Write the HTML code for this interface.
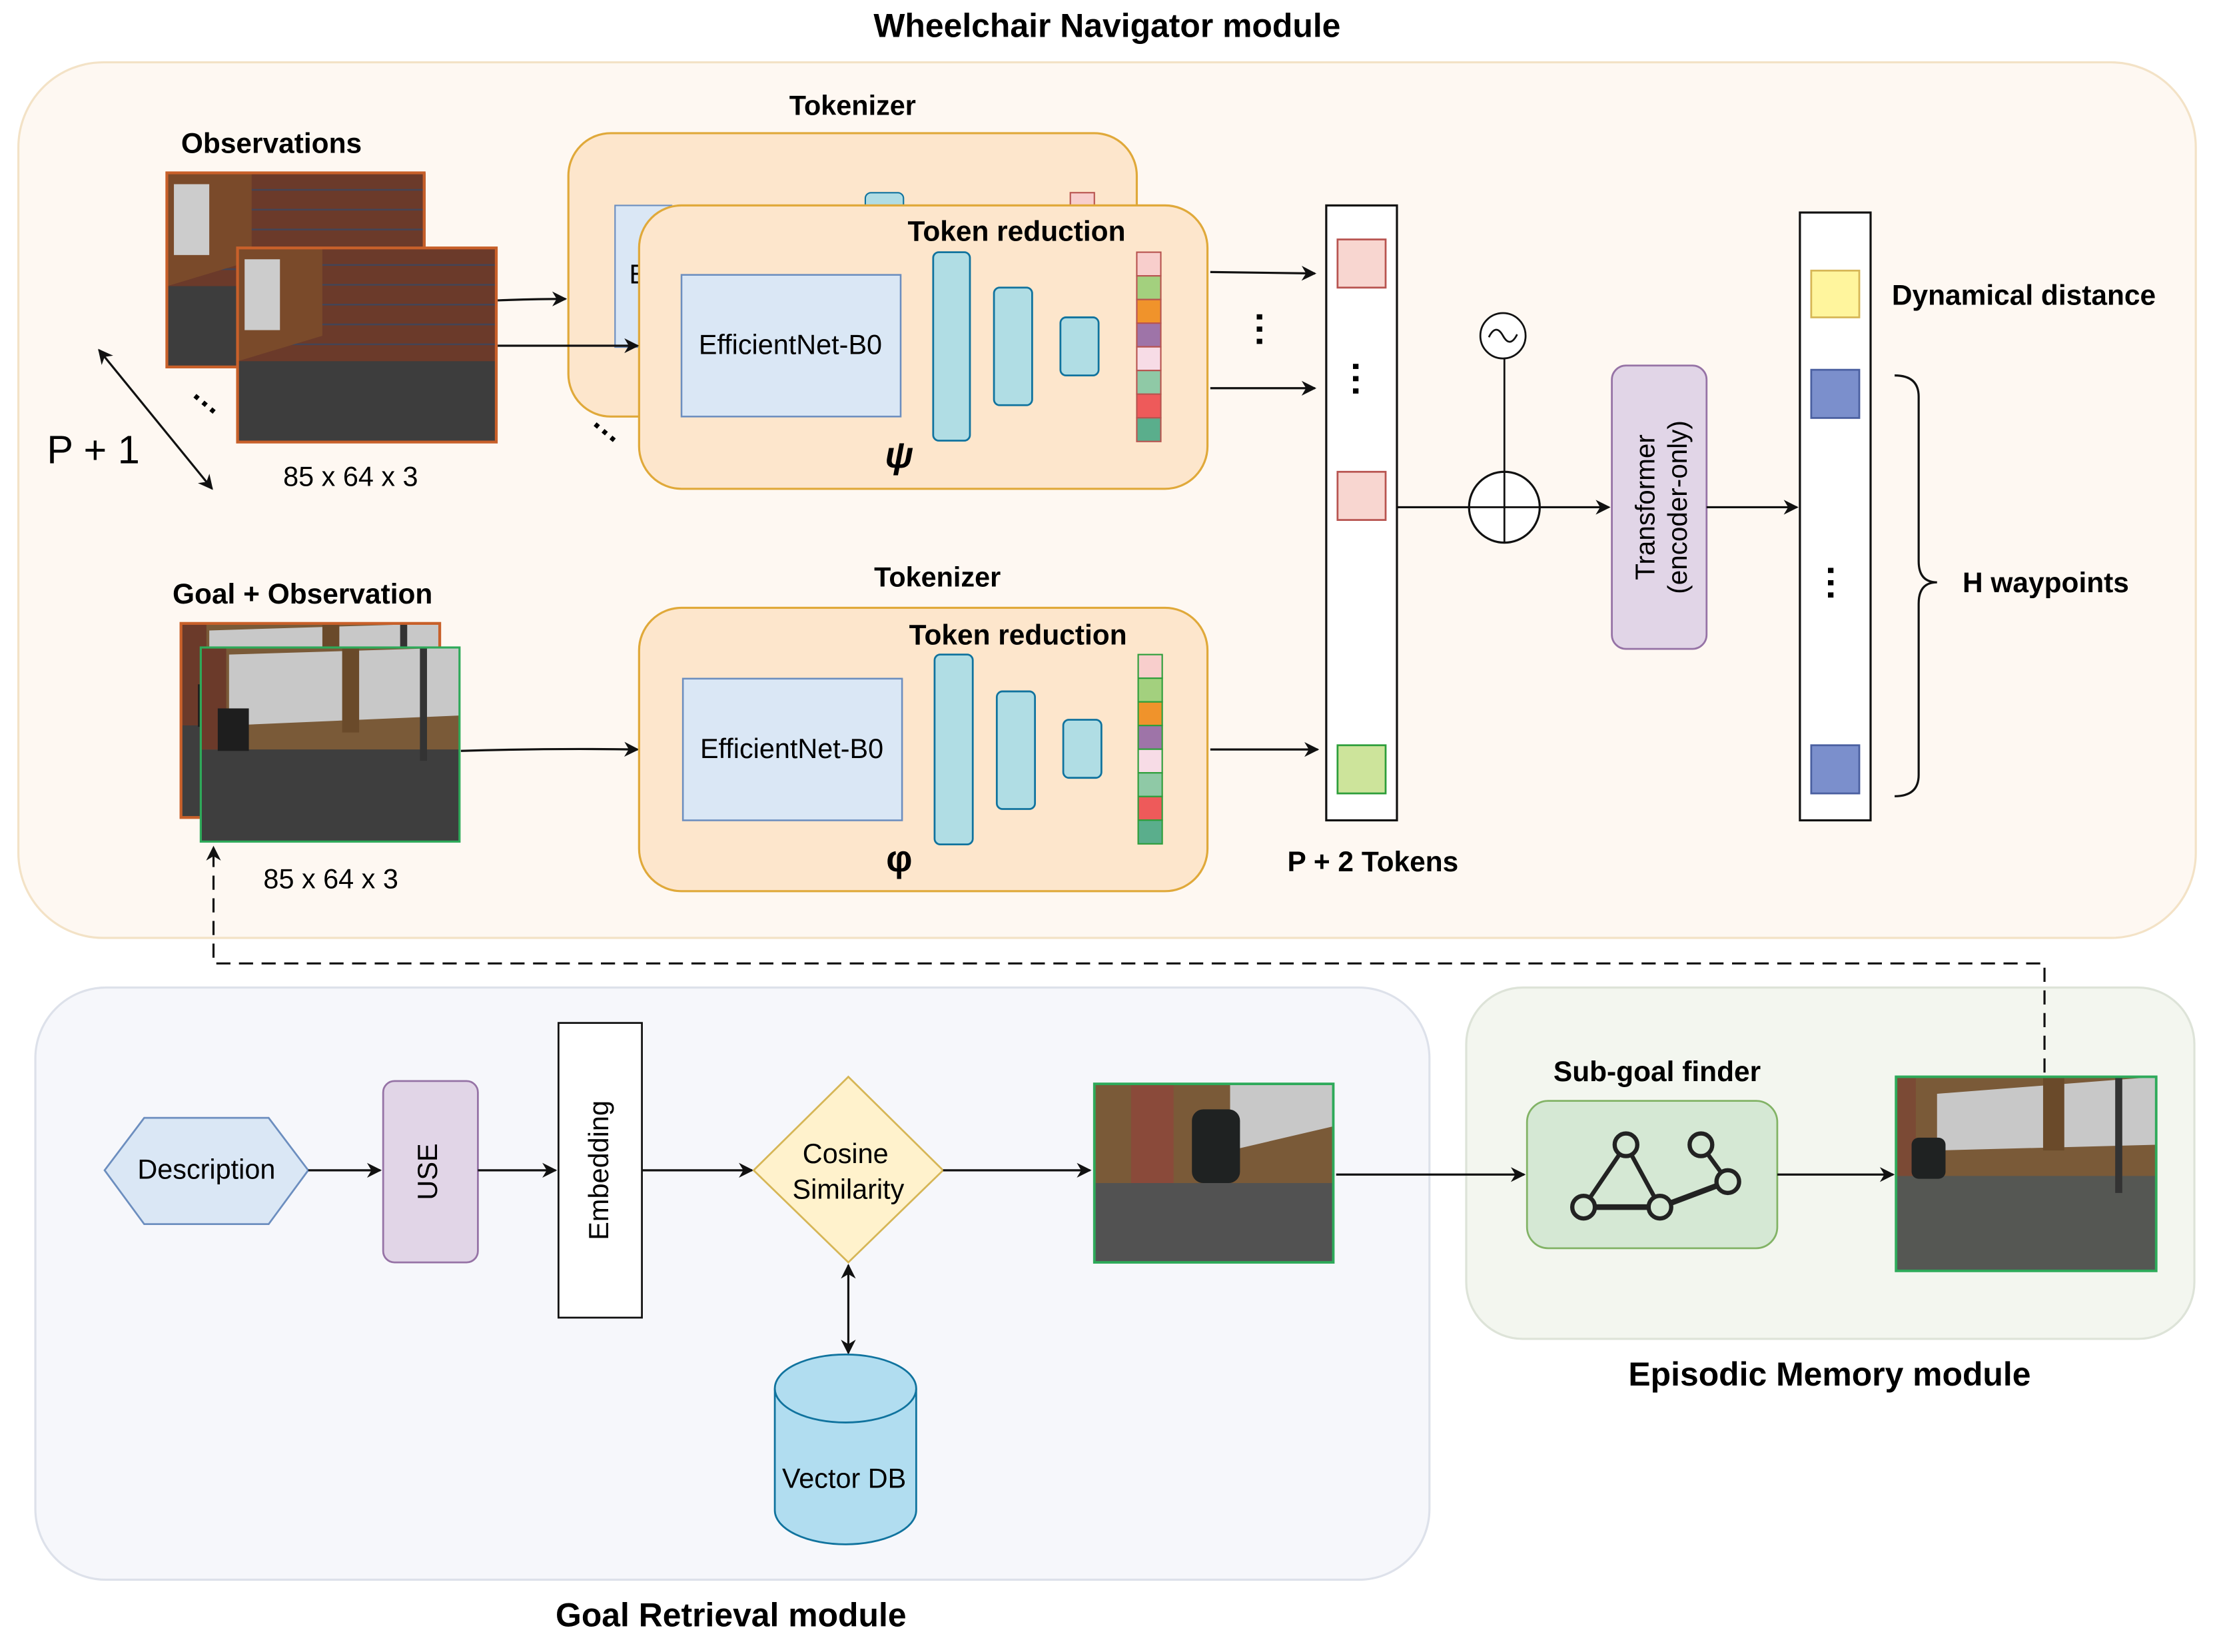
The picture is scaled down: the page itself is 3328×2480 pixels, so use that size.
<!DOCTYPE html>
<html><head><meta charset="utf-8"><style>html,body{margin:0;padding:0;background:#fff}svg{display:block}text{font-family:"Liberation Sans",sans-serif}</style></head>
<body>
<svg width="3328" height="2480" viewBox="0 0 1568 1166" preserveAspectRatio="none" xmlns="http://www.w3.org/2000/svg">
<defs>
<marker id="a" viewBox="0 0 10 10" refX="9" refY="5" markerWidth="7" markerHeight="7" orient="auto-start-reverse"><path d="M0,0 L10,5 L0,10 L3,5 z" fill="#111"/></marker>
<g id="obs">
<rect width="183" height="137" fill="#3c3c3c"/>
<rect width="183" height="80" fill="#6b3a2a"/>
<g stroke="#445" stroke-width="1.2">
<line x1="0" y1="12" x2="183" y2="12"/><line x1="0" y1="26" x2="183" y2="26"/><line x1="0" y1="40" x2="183" y2="40"/><line x1="0" y1="54" x2="183" y2="54"/><line x1="0" y1="68" x2="183" y2="68"/>
</g>
<polygon points="0,0 60,0 60,62 0,80" fill="#7a4a2a"/>
<rect x="5" y="8" width="25" height="50" fill="#ccc"/>
<rect x="0" y="80" width="183" height="57" fill="#3d3d3d"/>
</g>
<g id="goal">
<rect width="183" height="137" fill="#3e3e3e"/>
<rect width="183" height="72" fill="#7a5a38"/>
<polygon points="20,5 183,0 183,48 20,55" fill="#c8c8c8"/>
<rect x="100" y="0" width="12" height="60" fill="#6a4a2a"/>
<rect x="155" y="0" width="5" height="80" fill="#333"/>
<rect x="0" y="0" width="18" height="72" fill="#6b3a2a"/>
<rect x="12" y="43" width="22" height="30" fill="#1e1e1e"/>
</g>
</defs>

<rect x="13" y="44" width="1540" height="618" rx="60" fill="#fef8f2" stroke="#f3e2c6" stroke-width="1.5"/>
<rect x="25" y="697" width="986" height="418" rx="50" fill="#f6f7fb" stroke="#dde1ea" stroke-width="1.5"/>
<rect x="1037" y="697" width="515" height="248" rx="40" fill="#f3f6ef" stroke="#dde3d8" stroke-width="1.5"/>

<text x="783" y="26" font-size="23.5" font-weight="bold" text-anchor="middle">Wheelchair Navigator module</text>
<text x="517" y="1148" font-size="23.5" font-weight="bold" text-anchor="middle">Goal Retrieval module</text>
<text x="1294" y="978" font-size="23.5" font-weight="bold" text-anchor="middle">Episodic Memory module</text>

<text x="192" y="108" font-size="20" font-weight="bold" text-anchor="middle">Observations</text>
<use href="#obs" x="118" y="122"/>
<rect x="118" y="122" width="182" height="137" fill="none" stroke="#c8602a" stroke-width="2"/>
<use href="#obs" x="168" y="175"/>
<rect x="168" y="175" width="183" height="137" fill="none" stroke="#c8602a" stroke-width="2"/>
<text x="143" y="292" font-size="22" font-weight="bold" text-anchor="middle" transform="rotate(40 143 288)">···</text>
<text x="426" y="312" font-size="22" font-weight="bold" text-anchor="middle" transform="rotate(40 426 308)">···</text>
<text x="248" y="343" font-size="19.5" text-anchor="middle">85 x 64 x 3</text>
<text x="66" y="327" font-size="28" text-anchor="middle">P + 1</text>
<line x1="70" y1="247" x2="150" y2="345" stroke="#111" stroke-width="1.5" marker-start="url(#a)" marker-end="url(#a)"/>

<text x="603" y="81" font-size="19.5" font-weight="bold" text-anchor="middle">Tokenizer</text>
<rect x="402" y="94" width="402" height="200" rx="30" fill="#fde6cc" stroke="#e0a93a" stroke-width="1.5"/>
<rect x="435" y="145" width="40" height="100" fill="#dae7f5" stroke="#6c8ebf"/>
<text x="445" y="200" font-size="19">E</text>
<rect x="612" y="136" width="27" height="20" rx="4" fill="#b0dde4" stroke="#10739e"/>
<rect x="757" y="136" width="17" height="12" fill="#f8cecc" stroke="#b85450"/>
<rect x="452" y="145" width="402" height="200" rx="30" fill="#fde6cc" stroke="#e0a93a" stroke-width="1.5"/>
<text x="719" y="170" font-size="20" font-weight="bold" text-anchor="middle">Token reduction</text>
<rect x="482" y="194" width="155" height="100" fill="#dae7f5" stroke="#6c8ebf" stroke-width="1.2"/>
<text x="559" y="250" font-size="19.5" text-anchor="middle">EfficientNet-B0</text>
<rect x="660" y="178" width="26" height="133" rx="4" fill="#b0dde4" stroke="#10739e" stroke-width="1.3"/>
<rect x="703" y="203" width="27" height="83" rx="4" fill="#b0dde4" stroke="#10739e" stroke-width="1.3"/>
<rect x="750" y="224" width="27" height="41" rx="4" fill="#b0dde4" stroke="#10739e" stroke-width="1.3"/>
<text x="636" y="330" font-size="26" font-style="italic" font-family="Liberation Serif" text-anchor="middle" font-weight="bold">ψ</text>
<g stroke="#b85450" stroke-width="1">
<rect x="804" y="178" width="17" height="16.7" fill="#f8cecc"/>
<rect x="804" y="194.7" width="17" height="16.7" fill="#a3d07e"/>
<rect x="804" y="211.4" width="17" height="16.7" fill="#f0932b"/>
<rect x="804" y="228.1" width="17" height="16.7" fill="#9e74a8"/>
<rect x="804" y="244.8" width="17" height="16.7" fill="#f7dce6"/>
<rect x="804" y="261.5" width="17" height="16.7" fill="#8fc9a6"/>
<rect x="804" y="278.2" width="17" height="16.7" fill="#ee5a5a"/>
<rect x="804" y="294.9" width="17" height="16.7" fill="#5aae8c"/>
</g>
<path d="M352,212 Q380,211 400,211" fill="none" stroke="#111" stroke-width="1.5" marker-end="url(#a)"/>
<path d="M352,244 L451,244" fill="none" stroke="#111" stroke-width="1.5" marker-end="url(#a)"/>
<path d="M856,192 L930,193" fill="none" stroke="#111" stroke-width="1.5" marker-end="url(#a)"/>
<path d="M856,274 L930,274" fill="none" stroke="#111" stroke-width="1.5" marker-end="url(#a)"/>
<text x="893" y="244" font-size="26" font-weight="bold" text-anchor="middle" transform="rotate(90 893 233)">···</text>

<text x="214" y="426" font-size="20" font-weight="bold" text-anchor="middle">Goal + Observation</text>
<use href="#goal" x="128" y="440"/>
<rect x="128" y="440" width="183" height="137" fill="none" stroke="#c8602a" stroke-width="2"/>
<use href="#goal" x="142" y="457"/>
<rect x="142" y="457" width="183" height="137" fill="none" stroke="#2eaa5a" stroke-width="1.5"/>
<text x="234" y="627" font-size="19.5" text-anchor="middle">85 x 64 x 3</text>
<path d="M326,530 Q390,528 451,529" fill="none" stroke="#111" stroke-width="1.5" marker-end="url(#a)"/>

<text x="663" y="414" font-size="19.5" font-weight="bold" text-anchor="middle">Tokenizer</text>
<rect x="452" y="429" width="402" height="200" rx="30" fill="#fde6cc" stroke="#e0a93a" stroke-width="1.5"/>
<text x="720" y="455" font-size="20" font-weight="bold" text-anchor="middle">Token reduction</text>
<rect x="483" y="479" width="155" height="100" fill="#dae7f5" stroke="#6c8ebf" stroke-width="1.2"/>
<text x="560" y="535" font-size="19.5" text-anchor="middle">EfficientNet-B0</text>
<rect x="661" y="462" width="27" height="134" rx="4" fill="#b0dde4" stroke="#10739e" stroke-width="1.3"/>
<rect x="705" y="488" width="27" height="83" rx="4" fill="#b0dde4" stroke="#10739e" stroke-width="1.3"/>
<rect x="752" y="508" width="27" height="41" rx="4" fill="#b0dde4" stroke="#10739e" stroke-width="1.3"/>
<text x="636" y="615" font-size="26" font-weight="bold" font-family="Liberation Serif" text-anchor="middle">φ</text>
<g stroke="#2d9e3a" stroke-width="1">
<rect x="805" y="462" width="17" height="16.7" fill="#f8cecc"/>
<rect x="805" y="478.7" width="17" height="16.7" fill="#a3d07e"/>
<rect x="805" y="495.4" width="17" height="16.7" fill="#f0932b"/>
<rect x="805" y="512.1" width="17" height="16.7" fill="#9e74a8"/>
<rect x="805" y="528.8" width="17" height="16.7" fill="#f7dce6"/>
<rect x="805" y="545.5" width="17" height="16.7" fill="#8fc9a6"/>
<rect x="805" y="562.2" width="17" height="16.7" fill="#ee5a5a"/>
<rect x="805" y="578.9" width="17" height="16.7" fill="#5aae8c"/>
</g>
<path d="M856,529 L932,529" fill="none" stroke="#111" stroke-width="1.5" marker-end="url(#a)"/>

<rect x="938" y="145" width="50" height="434" fill="#fff" stroke="#111" stroke-width="1.5"/>
<rect x="946" y="169" width="34" height="34" fill="#f8d6d0" stroke="#b85450" stroke-width="1.3"/>
<rect x="946" y="333" width="34" height="34" fill="#f8d6d0" stroke="#b85450" stroke-width="1.3"/>
<rect x="946" y="526" width="34" height="34" fill="#cde49b" stroke="#2d9e3a" stroke-width="1.3"/>
<text x="961" y="279" font-size="26" font-weight="bold" text-anchor="middle" transform="rotate(90 961 268)">···</text>
<text x="971" y="615" font-size="20" font-weight="bold" text-anchor="middle">P + 2 Tokens</text>

<line x1="988" y1="358" x2="1039" y2="358" stroke="#111" stroke-width="1.5"/>
<circle cx="1064" cy="358" r="25" fill="#fff" stroke="#111" stroke-width="1.5"/>
<line x1="1039" y1="358" x2="1089" y2="358" stroke="#111" stroke-width="1.3"/>
<line x1="1064" y1="333" x2="1064" y2="383" stroke="#111" stroke-width="1.3"/>
<line x1="1064" y1="253" x2="1064" y2="333" stroke="#111" stroke-width="1.3"/>
<circle cx="1063" cy="237" r="16" fill="#fff" stroke="#111" stroke-width="1.3"/>
<path d="M1053,238 Q1058,228 1063,237 Q1068,246 1073,236" fill="none" stroke="#111" stroke-width="1.3"/>
<path d="M1089,358 L1138,358" fill="none" stroke="#111" stroke-width="1.5" marker-end="url(#a)"/>

<rect x="1140" y="258" width="67" height="200" rx="10" fill="#e1d5e7" stroke="#9673a6" stroke-width="1.3"/>
<text x="1173" y="358" font-size="19" text-anchor="middle" transform="rotate(-90 1173 358)"><tspan x="1173" dy="-3">Transformer</tspan><tspan x="1173" dy="23">(encoder-only)</tspan></text>
<path d="M1207,358 L1271,358" fill="none" stroke="#111" stroke-width="1.5" marker-end="url(#a)"/>

<rect x="1273" y="150" width="50" height="429" fill="#fff" stroke="#111" stroke-width="1.5"/>
<rect x="1281" y="191" width="34" height="33" fill="#fff59d" stroke="#d6b656" stroke-width="1.3"/>
<rect x="1281" y="261" width="34" height="34" fill="#7b8fcc" stroke="#4a5fa0" stroke-width="1.3"/>
<rect x="1281" y="526" width="34" height="34" fill="#7b8fcc" stroke="#4a5fa0" stroke-width="1.3"/>
<text x="1297" y="423" font-size="26" font-weight="bold" text-anchor="middle" transform="rotate(90 1297 412)">···</text>
<text x="1338" y="215" font-size="20" font-weight="bold">Dynamical distance</text>
<path d="M1340,265 Q1357,265 1357,280 L1357,396 Q1357,411 1370,411 Q1357,411 1357,426 L1357,547 Q1357,562 1340,562" fill="none" stroke="#111" stroke-width="1.5"/>
<text x="1388" y="418" font-size="20" font-weight="bold">H waypoints</text>

<path d="M1446,757 L1446,680 L151,680 L151,598" fill="none" stroke="#111" stroke-width="1.5" stroke-dasharray="10,6" marker-end="url(#a)"/>

<polygon points="74,826 102,789 190,789 218,826 190,864 102,864" fill="#dae7f5" stroke="#6c8ebf" stroke-width="1.3"/>
<text x="146" y="832" font-size="19.5" text-anchor="middle">Description</text>
<path d="M218,826 L269,826" fill="none" stroke="#111" stroke-width="1.5" marker-end="url(#a)"/>
<rect x="271" y="763" width="67" height="128" rx="8" fill="#e1d5e7" stroke="#9673a6" stroke-width="1.3"/>
<text x="304" y="827" font-size="19.5" text-anchor="middle" dominant-baseline="middle" transform="rotate(-90 304 827)">USE</text>
<path d="M338,826 L393,826" fill="none" stroke="#111" stroke-width="1.5" marker-end="url(#a)"/>
<rect x="395" y="722" width="59" height="208" fill="#fff" stroke="#111" stroke-width="1.3"/>
<text x="425" y="826" font-size="19.5" text-anchor="middle" dominant-baseline="middle" transform="rotate(-90 425 826)">Embedding</text>
<path d="M454,826 L532,826" fill="none" stroke="#111" stroke-width="1.5" marker-end="url(#a)"/>
<polygon points="600,760 667,826 600,891 533,826" fill="#fff2cc" stroke="#d6b656" stroke-width="1.3"/>
<text x="598" y="821" font-size="19.5" text-anchor="middle">Cosine</text>
<text x="600" y="846" font-size="19.5" text-anchor="middle">Similarity</text>
<path d="M667,826 L771,826" fill="none" stroke="#111" stroke-width="1.5" marker-end="url(#a)"/>
<line x1="600" y1="893" x2="600" y2="955" stroke="#111" stroke-width="1.5" marker-start="url(#a)" marker-end="url(#a)"/>
<path d="M548,980 L548,1066 A50,24 0 0 0 648,1066 L648,980" fill="#b1ddf0" stroke="#10739e" stroke-width="1.3"/>
<ellipse cx="598" cy="980" rx="50" ry="24" fill="#b1ddf0" stroke="#10739e" stroke-width="1.3"/>
<text x="597" y="1050" font-size="19.5" text-anchor="middle">Vector DB</text>

<rect x="774" y="765" width="169" height="126" fill="#525252"/>
<rect x="774" y="765" width="169" height="70" fill="#7a5a38"/>
<polygon points="870,765 943,765 943,795 870,812" fill="#c8c8c8"/>
<rect x="800" y="765" width="30" height="70" fill="#8a4a3a"/>
<rect x="843" y="783" width="34" height="52" rx="8" fill="#1f2222"/>
<rect x="774" y="765" width="169" height="126" fill="none" stroke="#2eaa5a" stroke-width="1.8"/>
<path d="M945,829 L1078,829" fill="none" stroke="#111" stroke-width="1.5" marker-end="url(#a)"/>

<text x="1172" y="763" font-size="20" font-weight="bold" text-anchor="middle">Sub-goal finder</text>
<rect x="1080" y="777" width="177" height="104" rx="15" fill="#d5e8d4" stroke="#82b366" stroke-width="1.3"/>
<g stroke="#222" stroke-width="3" fill="#d5e8d4">
<line x1="1150" y1="808" x2="1120" y2="852"/><line x1="1150" y1="808" x2="1174" y2="852"/>
<line x1="1120" y1="852" x2="1174" y2="852" stroke-width="4"/><line x1="1174" y1="852" x2="1222" y2="834" stroke-width="4"/>
<line x1="1203" y1="808" x2="1222" y2="834"/>
<circle cx="1150" cy="808" r="8"/><circle cx="1203" cy="808" r="8"/><circle cx="1222" cy="834" r="8"/>
<circle cx="1120" cy="852" r="8"/><circle cx="1174" cy="852" r="8"/>
</g>
<path d="M1257,829 L1339,829" fill="none" stroke="#111" stroke-width="1.5" marker-end="url(#a)"/>

<rect x="1341" y="760" width="184" height="137" fill="#555753"/>
<rect x="1341" y="760" width="184" height="70" fill="#7a5a38"/>
<polygon points="1370,772 1525,760 1525,808 1370,812" fill="#c8c8c8"/>
<rect x="1445" y="760" width="15" height="52" fill="#6a4a2a"/>
<rect x="1341" y="760" width="14" height="70" fill="#7b4a35"/>
<rect x="1496" y="760" width="5" height="82" fill="#333"/>
<rect x="1352" y="803" width="24" height="29" rx="5" fill="#1f2222"/>
<rect x="1341" y="760" width="184" height="137" fill="none" stroke="#2eaa5a" stroke-width="1.8"/>
</svg>
</body></html>
